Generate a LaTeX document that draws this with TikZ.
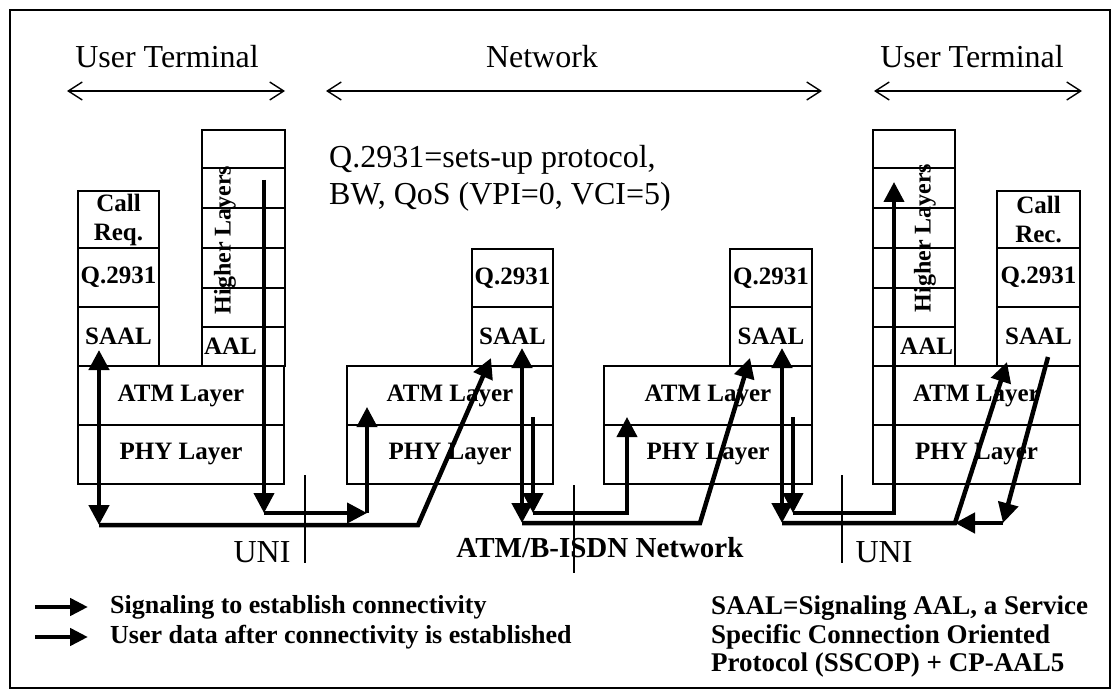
\documentclass[tikz,border=0pt]{standalone}
\usepackage{fontspec}
\setmainfont{Liberation Serif}
\usetikzlibrary{arrows.meta}

\begin{document}
\begin{tikzpicture}[x = 1pt, y = -1pt, font=\rmfamily]
\tikzstyle{cellStyle}=[draw, line width = 1.3pt, inner sep = 2pt, font = \bfseries\fontsize{25}{29}\selectfont]
\tikzstyle{headStyle}=[inner sep = 0pt, font = \fontsize{32}{36}\selectfont]
\tikzstyle{rangeStyle}=[line width = 1.4pt, {Straight Barb[length=14pt,width=18pt]}-{Straight Barb[length=14pt,width=18pt]}]
\tikzstyle{sigStyle}=[line width = 4.5pt, -{Triangle[length=20pt,width=20pt]}]
\tikzstyle{sigBothStyle}=[line width = 4.5pt, {Triangle[length=20pt,width=20pt]}-{Triangle[length=20pt,width=20pt]}]
\tikzstyle{dataStyle}=[line width = 4pt, -{Triangle[length=20pt,width=20pt]}]
\tikzstyle{cutStyle}=[line width = 1.4pt]
\tikzstyle{legendStyle}=[inner sep = 0pt, anchor = west, font = \bfseries\fontsize{26}{28.5}\selectfont]
\useasboundingbox (0,0) rectangle (1120,698);
\draw[line width = 1.3pt] (10,10) rectangle (1110,688);
\node[headStyle] (lUserText) at (167,57) {User Terminal};
\node[headStyle] (netText) at (542,57) {Network};
\node[headStyle] (rUserText) at (972,57) {User Terminal};
\coordinate (lUserW) at (67,91);
\coordinate (lUserE) at (285,91);
\coordinate (netW) at (326,91);
\coordinate (netE) at (822,91);
\coordinate (rUserW) at (874,91);
\coordinate (rUserE) at (1082,91);
\draw[rangeStyle] (lUserW) -- (lUserE);
\draw[rangeStyle] (netW) -- (netE);
\draw[rangeStyle] (rUserW) -- (rUserE);
\node[inner sep = 0pt, anchor = west, align = left, font = \fontsize{32}{37}\selectfont] (noteText) at (329,178) {Q.2931=sets-up protocol,\\BW, QoS (VPI=0, VCI=5)};
\node[cellStyle, minimum width = 81pt, minimum height = 57pt, align = center] (lCall) at (118.5,219.5) {Call\\Req.};
\node[cellStyle, minimum width = 81pt, minimum height = 59pt] (lQ) at (118.5,277.5) {Q.2931};
\node[cellStyle, minimum width = 81pt, minimum height = 59pt] (lSaal) at (118.5,336.5) {SAAL};
\node[cellStyle, minimum width = 83pt, minimum height = 38pt] (lHighA) at (243.5,149) {};
\node[cellStyle, minimum width = 83pt, minimum height = 40pt] (lHighB) at (243.5,188) {};
\node[cellStyle, minimum width = 83pt, minimum height = 40pt] (lHighC) at (243.5,228) {};
\node[cellStyle, minimum width = 83pt, minimum height = 40pt] (lHighD) at (243.5,268) {};
\node[cellStyle, minimum width = 83pt, minimum height = 39pt] (lHighE) at (243.5,307.5) {};
\node[cellStyle, minimum width = 83pt, minimum height = 39pt, text width = 79pt, align = left] (lAal) at (243.5,346.5) {AAL};
\node[cellStyle, draw = none, rotate = 90, font = \bfseries\fontsize{24}{26}\selectfont] (lHighText) at (225,240) {Higher Layers};
\node[cellStyle, minimum width = 206pt, minimum height = 59pt] (lAtm) at (181,395.5) {ATM Layer};
\node[cellStyle, minimum width = 206pt, minimum height = 59pt] (lPhy) at (181,454.5) {PHY Layer};
\node[cellStyle, minimum width = 81pt, minimum height = 58pt] (aQ) at (512.5,278) {Q.2931};
\node[cellStyle, minimum width = 81pt, minimum height = 59pt] (aSaal) at (512.5,336.5) {SAAL};
\node[cellStyle, minimum width = 206pt, minimum height = 59pt] (aAtm) at (450,395.5) {ATM Layer};
\node[cellStyle, minimum width = 206pt, minimum height = 59pt] (aPhy) at (450,454.5) {PHY Layer};
\node[cellStyle, minimum width = 82pt, minimum height = 58pt] (bQ) at (771,278) {Q.2931};
\node[cellStyle, minimum width = 82pt, minimum height = 59pt] (bSaal) at (771,336.5) {SAAL};
\node[cellStyle, minimum width = 208pt, minimum height = 59pt] (bAtm) at (708,395.5) {ATM Layer};
\node[cellStyle, minimum width = 208pt, minimum height = 59pt] (bPhy) at (708,454.5) {PHY Layer};
\node[cellStyle, minimum width = 82pt, minimum height = 38pt] (rHighA) at (914,149) {};
\node[cellStyle, minimum width = 82pt, minimum height = 40pt] (rHighB) at (914,188) {};
\node[cellStyle, minimum width = 82pt, minimum height = 40pt] (rHighC) at (914,228) {};
\node[cellStyle, minimum width = 82pt, minimum height = 40pt] (rHighD) at (914,268) {};
\node[cellStyle, minimum width = 82pt, minimum height = 39pt] (rHighE) at (914,307.5) {};
\node[cellStyle, minimum width = 82pt, minimum height = 39pt, text width = 78pt, align = right] (rAal) at (914,346.5) {AAL};
\node[cellStyle, draw = none, rotate = 90, font = \bfseries\fontsize{24}{26}\selectfont] (rHighText) at (925,238) {Higher Layers};
\node[cellStyle, minimum width = 83pt, minimum height = 57pt, align = center] (rCall) at (1038.5,219.5) {Call\\Rec.};
\node[cellStyle, minimum width = 83pt, minimum height = 59pt] (rQ) at (1038.5,277.5) {Q.2931};
\node[cellStyle, minimum width = 83pt, minimum height = 59pt] (rSaal) at (1038.5,336.5) {SAAL};
\node[cellStyle, minimum width = 207pt, minimum height = 59pt] (rAtm) at (976.5,395.5) {ATM Layer};
\node[cellStyle, minimum width = 207pt, minimum height = 59pt] (rPhy) at (976.5,454.5) {PHY Layer};
\coordinate (lSigTop) at (99,350);
\coordinate (lSigBot) at (99,525);
\coordinate (aSigKnee) at (418,525);
\coordinate (aSigTip) at (491,358);
\coordinate (aSigTop) at (522,348);
\coordinate (aSigBot) at (522,523);
\coordinate (bSigKnee) at (700,523);
\coordinate (bSigTip) at (750,358);
\coordinate (bSigTop) at (782,348);
\coordinate (bSigBot) at (782,523);
\coordinate (rSigKnee) at (955,523);
\coordinate (rSigTip) at (1007,362);
\coordinate (rRetStart) at (1048,357);
\coordinate (rRetEnd) at (1003,523);
\draw[sigBothStyle] (lSigTop) -- (lSigBot);
\draw[sigStyle] (lSigBot) -- (aSigKnee) -- (aSigTip);
\draw[sigBothStyle] (aSigTop) -- (aSigBot);
\draw[sigStyle] (aSigBot) -- (bSigKnee) -- (bSigTip);
\draw[sigBothStyle] (bSigTop) -- (bSigBot);
\draw[sigStyle] (bSigBot) -- (rSigKnee) -- (rSigTip);
\draw[sigStyle] (rRetStart) -- (rRetEnd);
\draw[sigStyle] (rRetEnd) -- (rSigKnee);
\coordinate (lDataTop) at (264,180);
\coordinate (lDataBot) at (264,513);
\coordinate (aDataBot) at (367,513);
\coordinate (aDataTip) at (367,407);
\coordinate (aDataDrop) at (533,417);
\coordinate (aDataLow) at (533,513);
\coordinate (bDataBot) at (627,513);
\coordinate (bDataTip) at (627,417);
\coordinate (bDataDrop) at (793,417);
\coordinate (bDataLow) at (793,513);
\coordinate (rDataBot) at (894,513);
\coordinate (rDataTip) at (894,182);
\draw[dataStyle] (lDataTop) -- (lDataBot);
\draw[dataStyle] (lDataBot) -- (aDataBot);
\draw[dataStyle] (aDataBot) -- (aDataTip);
\draw[dataStyle] (aDataDrop) -- (aDataLow);
\draw[dataStyle] (aDataLow) -- (bDataBot) -- (bDataTip);
\draw[dataStyle] (bDataDrop) -- (bDataLow);
\draw[dataStyle] (bDataLow) -- (rDataBot) -- (rDataTip);
\coordinate (lUniTop) at (305,475);
\coordinate (lUniBot) at (305,563);
\coordinate (midTop) at (574,485);
\coordinate (midBot) at (574,573);
\coordinate (rUniTop) at (842,475);
\coordinate (rUniBot) at (842,563);
\draw[cutStyle] (lUniTop) -- (lUniBot);
\draw[cutStyle] (midTop) -- (midBot);
\draw[cutStyle] (rUniTop) -- (rUniBot);
\node[headStyle] (lUniText) at (262,552) {UNI};
\node[headStyle] (rUniText) at (884,552) {UNI};
\node[inner sep = 0pt, font = \bfseries\fontsize{29}{32}\selectfont] (netBelowText) at (600,548) {ATM/B-ISDN Network};
\coordinate (legSigW) at (35,607);
\coordinate (legSigE) at (88,607);
\coordinate (legDataW) at (35,637);
\coordinate (legDataE) at (88,637);
\draw[line width = 4.5pt, -{Triangle[length=18pt,width=17pt]}] (legSigW) -- (legSigE);
\draw[line width = 4.5pt, -{Triangle[length=18pt,width=17pt]}] (legDataW) -- (legDataE);
\node[legendStyle] (legSigText) at (110,607) {Signaling to establish connectivity};
\node[legendStyle] (legDataText) at (110,637) {User data after connectivity is established};
\node[legendStyle, font = \bfseries\fontsize{27}{28.5}\selectfont, align = left] (saalText) at (711,637) {SAAL=Signaling AAL, a Service\\Specific Connection Oriented\\Protocol (SSCOP) + CP-AAL5};
\end{tikzpicture}
\end{document}
